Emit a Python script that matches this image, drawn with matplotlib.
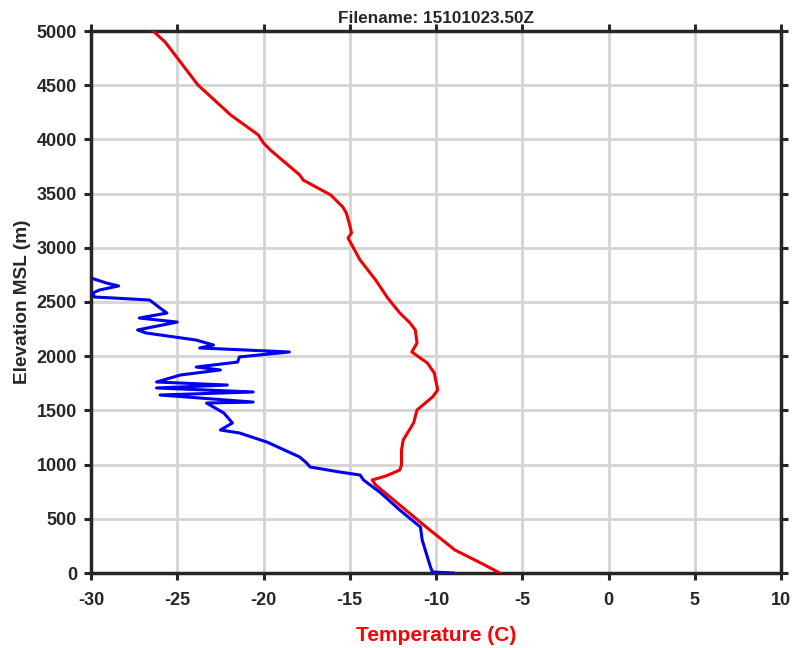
import matplotlib
matplotlib.use("Agg")
import matplotlib.pyplot as plt

plt.rcParams['font.family'] = ['Liberation Sans', 'DejaVu Sans']
plt.rcParams['axes.unicode_minus'] = False

# Temperature profile (C) vs elevation (m)
temp_c = [-26.4, -25.7, -23.8, -21.9, -20.3, -20.0, -19.6, -17.9, -17.7, -16.1,
          -15.4, -15.2, -15.0, -14.9, -15.1, -14.4, -13.5, -12.8, -12.1, -11.5,
          -11.2, -11.1, -11.4, -10.5, -10.1, -9.9, -10.2, -11.1, -11.3, -11.9,
          -12.0, -12.0, -12.1, -12.9, -13.7, -13.5, -12.1, -10.5, -8.9, -7.4, -6.3]
temp_z = [5000, 4898, 4502, 4225, 4041, 3967, 3902, 3672, 3625, 3487,
          3376, 3321, 3210, 3137, 3090, 2887, 2703, 2537, 2399, 2306,
          2242, 2122, 2039, 1937, 1845, 1688, 1624, 1504, 1384, 1227,
          1135, 996, 950, 895, 858, 812, 627, 415, 212, 92, 0]

# Dew point profile (C) vs elevation (m)
dew_c = [-30.0, -29.1, -28.4, -29.5, -29.9, -29.8, -28.7, -26.6, -26.0, -25.6,
         -27.2, -25.0, -27.3, -26.8, -23.9, -22.9, -23.7, -18.5, -21.4, -21.5,
         -23.9, -22.5, -24.8, -26.2, -22.1, -26.2, -20.6, -26.0, -20.6, -23.3,
         -22.3, -21.8, -22.5, -21.4, -19.8, -17.9, -17.5, -17.3, -15.6, -14.4,
         -14.2, -13.2, -12.1, -10.9, -10.8, -10.5, -10.3, -10.2, -9.0]
dew_z = [2721, 2675, 2648, 2611, 2583, 2546, 2537, 2518, 2445, 2398,
         2352, 2315, 2242, 2214, 2149, 2103, 2076, 2039, 1993, 1946,
         1900, 1873, 1827, 1762, 1734, 1707, 1670, 1642, 1577, 1568,
         1476, 1384, 1319, 1292, 1208, 1070, 1015, 978, 932, 904,
         858, 738, 581, 424, 304, 148, 46, 9, 0]

x_ticks = [-30, -25, -20, -15, -10, -5, 0, 5, 10]
y_ticks = list(range(0, 5001, 500))

fig = plt.figure(figsize=(7.92, 6.48), dpi=100)
ax = fig.add_axes([91/792, 1 - 573/648, (781 - 91)/792, (573 - 31)/648])

ax.plot(temp_c, temp_z, color='#ee0000', lw=2.2, zorder=3)
ax.plot(dew_c, dew_z, color='#0000ee', lw=2.2, zorder=3)

ax.set_xlim(-30, 10)
ax.set_ylim(0, 5000)
ax.set_xticks(x_ticks)
ax.set_yticks(y_ticks)
ax.grid(True, color='#d4d4d4', lw=2, zorder=0)
ax.set_axisbelow(True)

for s in ax.spines.values():
    s.set_linewidth(2.5)
    s.set_color('#262626')

ax.tick_params(axis='both', direction='out', length=5, width=2.2, color='#262626',
               top=True, right=True, labelsize=13)
ax.tick_params(axis='x', pad=9)
ax.tick_params(axis='y', pad=5)
for lbl in ax.get_xticklabels() + ax.get_yticklabels():
    lbl.set_fontweight('bold')
    lbl.set_color('#262626')

ax.set_title('Filename: 15101023.50Z', fontsize=12.3, fontweight='bold', color='#262626', pad=6)
ax.set_xlabel('Temperature (C)', fontsize=15, fontweight='bold', color='#ff0000', labelpad=12)
ax.set_ylabel('Elevation MSL (m)', fontsize=13.7, fontweight='bold', color='#262626', labelpad=4)

fig.savefig('out.png', dpi=100)
